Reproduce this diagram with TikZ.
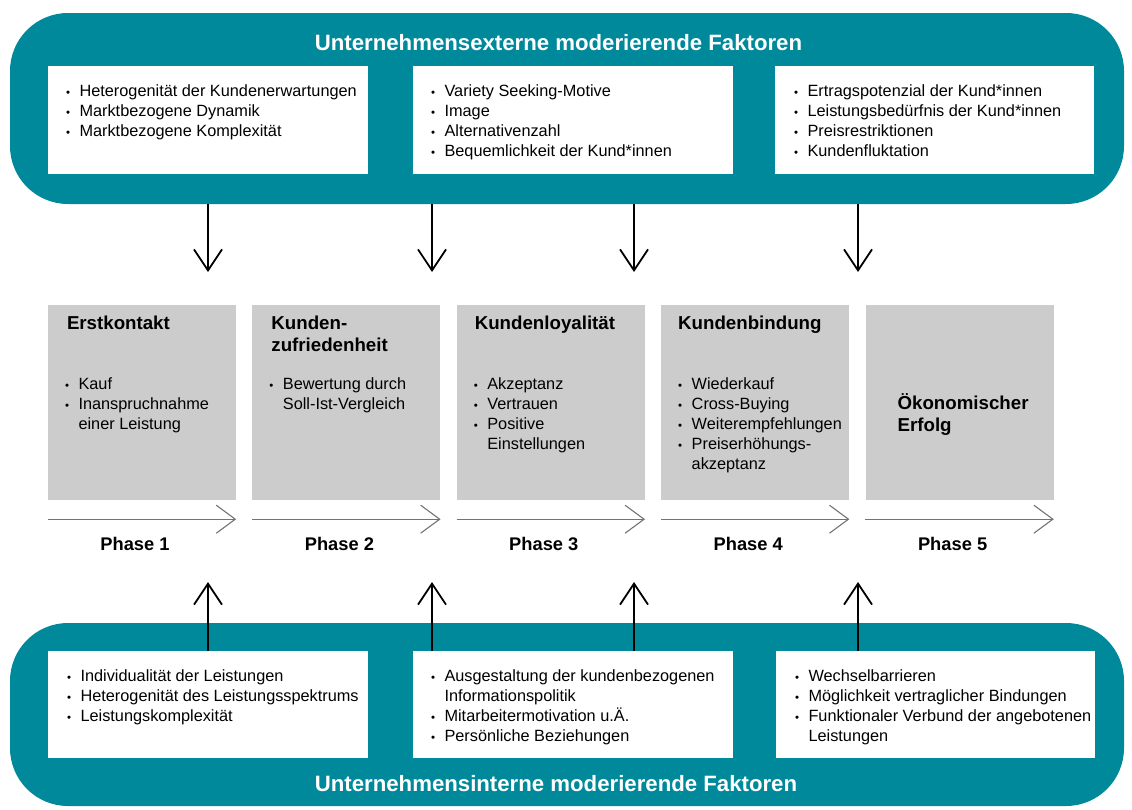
\documentclass[tikz,border=0pt]{standalone}
\usepackage{fontspec}
\setmainfont{Liberation Sans}
\usetikzlibrary{arrows.meta,positioning,calc}
\definecolor{fteal}{HTML}{00899B}
\definecolor{fgray}{HTML}{CCCCCC}
\newcommand{\bul}{{\fontsize{11.5}{11.5}\selectfont\textbullet}}
\newcommand{\blist}[1]{\begin{tabular}{@{}l@{\hspace{9.5pt}}l@{}}#1\end{tabular}}
\newcommand{\btitle}[1]{\begin{tabular}{@{}l@{}}#1\end{tabular}}
\tikzset{
  band/.style       = {fill=fteal, rounded corners=58pt, inner sep=0pt},
  bandtitle/.style  = {text=white, inner sep=0pt,
                       font=\fontsize{22.2}{26}\selectfont\bfseries},
  factorbox/.style  = {fill=white, inner sep=0pt, minimum width=320pt,
                       minimum height=108pt},
  phasebox/.style   = {fill=fgray, inner sep=0pt, minimum width=188pt,
                       minimum height=195pt},
  txt/.style        = {anchor=north west, inner sep=0pt,
                       font=\fontsize{16.3}{20}\selectfont},
  headtxt/.style    = {anchor=north west, inner sep=0pt,
                       font=\fontsize{18.7}{22}\selectfont\bfseries},
  phaselabel/.style = {inner sep=0pt, font=\fontsize{18.3}{22}\selectfont\bfseries},
  flow/.style       = {line width=1.8pt, -{Straight Barb[length=21pt,width=28pt]}},
  phaseline/.style  = {draw=black!55, line width=1.1pt,
                       -{Straight Barb[length=19pt,width=28pt]}},
}

\begin{document}
\begin{tikzpicture}[x=1pt,y=-1pt]
\useasboundingbox (0,0) rectangle (1132,809);
% outer bands
\node[band, minimum width=1114pt, minimum height=191pt] (ext) at (567,108.5) {};
\node[band, minimum width=1114pt, minimum height=183pt] (int) at (567,714.5) {};
\node[bandtitle] (exttitle) at (558.5,43) {Unternehmensexterne moderierende Faktoren};
\node[bandtitle] (inttitle) at (556,784) {Unternehmensinterne moderierende Faktoren};

% external factors
\node[factorbox] (e1) at (208,120) {};
\node[factorbox] (e2) at (573,120) {};
\node[factorbox, minimum width=319pt] (e3) at (934.5,120) {};
\node[txt, below right=16pt and 18pt of e1.north west] (e1t) {\blist{%
  \bul & Heterogenität der Kundenerwartungen\\
  \bul & Marktbezogene Dynamik\\
  \bul & Marktbezogene Komplexität}};
\node[txt, below right=16pt and 18pt of e2.north west] (e2t) {\blist{%
  \bul & Variety Seeking-Motive\\
  \bul & Image\\
  \bul & Alternativenzahl\\
  \bul & Bequemlichkeit der Kund*innen}};
\node[txt, below right=16pt and 19pt of e3.north west] (e3t) {\blist{%
  \bul & Ertragspotenzial der Kund*innen\\
  \bul & Leistungsbedürfnis der Kund*innen\\
  \bul & Preisrestriktionen\\
  \bul & Kundenfluktation}};

% internal factors
\node[factorbox, minimum height=107pt] (i1) at (208,704.5) {};
\node[factorbox, minimum height=107pt] (i2) at (573,704.5) {};
\node[factorbox, minimum width=319pt, minimum height=107pt] (i3) at (935.5,704.5) {};
\node[txt, below right=16pt and 19pt of i1.north west] (i1t) {\blist{%
  \bul & Individualität der Leistungen\\
  \bul & Heterogenität des Leistungsspektrums\\
  \bul & Leistungskomplexität}};
\node[txt, below right=16pt and 18pt of i2.north west] (i2t) {\blist{%
  \bul & Ausgestaltung der kundenbezogenen\\
       & Informationspolitik\\
  \bul & Mitarbeitermotivation u.Ä.\\
  \bul & Persönliche Beziehungen}};
\node[txt, below right=16pt and 19pt of i3.north west] (i3t) {\blist{%
  \bul & Wechselbarrieren\\
  \bul & Möglichkeit vertraglicher Bindungen\\
  \bul & Funktionaler Verbund der angebotenen\\
       & Leistungen}};

% phases
\node[phasebox] (g1) at (142,402.5) {};
\node[phasebox] (g2) at (346.4,402.5) {};
\node[phasebox] (g3) at (550.8,402.5) {};
\node[phasebox] (g4) at (755.2,402.5) {};
\node[phasebox] (g5) at (959.6,402.5) {};

\node[headtxt, below right=8.6pt and 19pt of g1.north west] (g1h) {\btitle{Erstkontakt}};
\node[txt, below right=70pt and 17pt of g1.north west] (g1t) {\blist{%
  \bul & Kauf\\
  \bul & Inanspruchnahme\\
       & einer Leistung}};
\node[headtxt, below right=8.6pt and 19pt of g2.north west] (g2h) {\btitle{Kunden-\\zufriedenheit}};
\node[txt, below right=70pt and 17pt of g2.north west] (g2t) {\blist{%
  \bul & Bewertung durch\\
       & Soll-Ist-Vergleich}};
\node[headtxt, below right=8.6pt and 18pt of g3.north west] (g3h) {\btitle{Kundenloyalität}};
\node[txt, below right=70pt and 17pt of g3.north west] (g3t) {\blist{%
  \bul & Akzeptanz\\
  \bul & Vertrauen\\
  \bul & Positive\\
       & Einstellungen}};
\node[headtxt, below right=8.6pt and 17pt of g4.north west] (g4h) {\btitle{Kundenbindung}};
\node[txt, below right=70pt and 17pt of g4.north west] (g4t) {\blist{%
  \bul & Wiederkauf\\
  \bul & Cross-Buying\\
  \bul & Weiterempfehlungen\\
  \bul & Preiserhöhungs-\\
       & akzeptanz}};
\node[headtxt, below right=88.6pt and 32pt of g5.north west] (g5h) {\btitle{Ökonomischer\\Erfolg}};

\foreach \i in {1,...,5} {
  \draw[phaseline] ([yshift=-19pt]g\i.south west) -- ([yshift=-19pt]g\i.south east);
  \node[phaselabel] (ph\i) at ([xshift=-7pt,yshift=-44pt]g\i.south) {Phase \i};
}

% influence arrows
\foreach \x [count=\k] in {208,432,634,858} {
  \coordinate (dn\k) at (\x,272);
  \coordinate (up\k) at (\x,582);
  \draw[flow] (ext.south -| dn\k) -- (dn\k);
}
\draw[flow] (i1.north -| up1) -- (up1);
\draw[flow] (i2.north -| up2) -- (up2);
\draw[flow] (i2.north -| up3) -- (up3);
\draw[flow] (i3.north -| up4) -- (up4);
\end{tikzpicture}
\end{document}
